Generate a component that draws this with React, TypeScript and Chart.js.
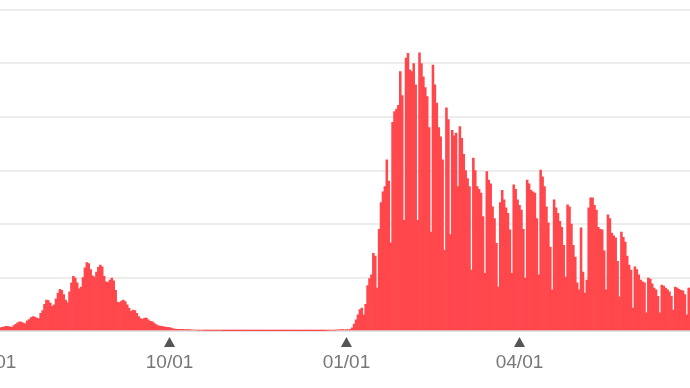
import React, { useEffect, useRef } from "react";
import { Chart, registerables } from "chart.js";

Chart.register(...registerables);

// Daily categories start on 2021-07-01 (one bar per day)
const START_DATE = "2021-07-01";
const DAY_COUNT = 365;
const TICK_LABELS = ["07/01", "10/01", "01/01", "04/01"];

// Y axis (no labels visible in the crop)
const Y_MAX = 60000;
const Y_STEP = 10000;

// 2021 summer wave: days 0-104
const wave2021 = [
  700, 680, 620, 560, 600, 680, 780, 850, 820, 760,
  700, 1000, 1250, 1550, 1700, 1650, 1500, 1350, 1900, 2150,
  2500, 2700, 2600, 2400, 2300, 3300, 3800, 5000, 5800, 5700,
  5200, 4600, 4900, 6000, 7100, 7800, 7600, 6800, 5800, 5300,
  7300, 9000, 10200, 9900, 9000, 7900, 8200, 10000, 11800, 12800,
  12600, 11500, 10300, 10100, 11000, 11900, 12300, 12000, 10200, 9200,
  9100, 9500, 9900, 9400, 7600, 5400, 5300, 5600, 5800, 5500,
  4900, 4300, 3700, 3900, 3800, 3300, 2700, 2300, 2200, 2400,
  2400, 2100, 1800, 1750, 1500, 1200, 1000, 900, 850, 800,
  750, 700, 650, 550, 420, 360, 330, 300, 320, 300,
  280, 260, 250, 220, 200,
];

// autumn lull: days 105-185
const lull = [
  180, 160, 150, 140, 150, 130, 120, 130, 110, 100,
  110, 100, 90, 100, 90, 80, 80, 70, 60, 60,
  70, 60, 50, 50, 60, 55, 50, 45, 50, 45,
  40, 40, 45, 40, 35, 35, 40, 35, 30, 30,
  35, 30, 30, 35, 40, 35, 30, 35, 40, 35,
  30, 40, 45, 40, 35, 45, 50, 45, 40, 50,
  60, 55, 50, 60, 70, 65, 60, 80, 100, 120,
  150, 170, 160, 140, 200, 240, 260, 250, 220, 250, 200,
];

// 2022 wave: days 186-364 (rows are Monday..Sunday)
const wave2022 = [
  300, 600, 1300, 2100, 3000, 4000, 4300,
  3000, 5000, 8500, 9800, 10500, 14500, 14000,
  8000, 19000, 24000, 26000, 27000, 32000, 28000,
  16500, 39000, 41000, 41500, 42200, 48500, 44000,
  20700, 51000, 51900, 48800, 48500, 50000, 46000,
  20700, 52000, 50000, 47500, 45500, 43800, 38000,
  18500, 49700, 46000, 42600, 38000, 36300, 32000,
  15100, 41700, 39500, 18000, 37500, 36500, 37000,
  27000, 38200, 36000, 33000, 30000, 28500, 27000,
  11400, 32300, 30000, 27000, 26500, 25800, 21400,
  10800, 29800, 28200, 27500, 23200, 21000, 16400,
  8200, 24000, 26300, 24500, 23000, 22000, 18900,
  10800, 27300, 26500, 24500, 23500, 22600, 19000,
  9900, 28200, 27500, 26300, 26000, 25800, 21000,
  10500, 30100, 28800, 27000, 23200, 20200, 15700,
  7700, 24500, 23000, 22000, 20500, 19400, 16000,
  10100, 23600, 23200, 20000, 16000, 13800, 9000,
  7700, 19300, 11000, 7100, 9500, 23000, 24900,
  24900, 23500, 22600, 19400, 19000, 18900, 15000,
  7700, 21700, 21000, 18300, 17800, 17400, 13000,
  6400, 18500, 17500, 16600, 14000, 12300, 11400,
  4300, 12000, 11500, 10500, 9500, 9200, 9000,
  3400, 9900, 9700, 8800, 8000, 7700, 6500,
  3400, 8600, 8400, 8000, 7700, 7300, 6500,
  3900, 8200, 8000, 7800, 7600, 7500, 6800,
  3000, 8000, 8000, 7800,
];

const DAILY = [...wave2021, ...lull, ...wave2022];

function buildDates(start: string, n: number): string[] {
  const [y, m, d] = start.split("-").map(Number);
  const dt = new Date(Date.UTC(y, m - 1, d));
  const out: string[] = [];
  for (let i = 0; i < n; i++) {
    const mm = String(dt.getUTCMonth() + 1).padStart(2, "0");
    const dd = String(dt.getUTCDate()).padStart(2, "0");
    out.push(`${mm}/${dd}`);
    dt.setUTCDate(dt.getUTCDate() + 1);
  }
  return out;
}

const DATES = buildDates(START_DATE, DAY_COUNT);

const FONT = "'Liberation Sans', Arial, Helvetica, sans-serif";

const tickMarkers = {
  id: "tickMarkers",
  afterDraw(chart: any) {
    const sc = chart.scales.x;
    const ctx = chart.ctx;
    const base = chart.chartArea.bottom;
    ctx.save();
    ctx.fillStyle = "#555555";
    sc.ticks.forEach((_t: any, i: number) => {
      const px = sc.getPixelForTick(i);
      ctx.beginPath();
      ctx.moveTo(px, base + 6);
      ctx.lineTo(px + 5.5, base + 16);
      ctx.lineTo(px - 5.5, base + 16);
      ctx.closePath();
      ctx.fill();
    });
    ctx.restore();
  },
};

const CANVAS_W = 782;
const CANVAS_H = 388;
const CANVAS_LEFT = -48;
const PAD_LEFT = 39.64;
const PAD_RIGHT = CANVAS_W - PAD_LEFT - 701.9;

export default function App() {
  const ref = useRef<HTMLCanvasElement | null>(null);

  useEffect(() => {
    if (!ref.current) return;
    const chart = new Chart(ref.current, {
      type: "bar",
      data: {
        labels: DATES,
        datasets: [
          {
            data: DAILY.slice(0, DAY_COUNT),
            backgroundColor: "#ff474c",
            borderWidth: 0,
            barPercentage: 1,
            categoryPercentage: 1,
          },
        ],
      },
      options: {
        animation: false,
        responsive: false,
        devicePixelRatio: 1,
        layout: { padding: { left: PAD_LEFT, right: PAD_RIGHT, top: 10, bottom: 0 } },
        plugins: { legend: { display: false }, tooltip: { enabled: false } },
        scales: {
          x: {
            type: "category",
            offset: true,
            grid: { display: false, drawTicks: false },
            border: { display: false },
            ticks: {
              autoSkip: false,
              maxRotation: 0,
              minRotation: 0,
              padding: 20,
              color: "#777777",
              font: { family: FONT, size: 19 },
            },
            afterBuildTicks(scale: any) {
              scale.ticks = scale.ticks.filter((t: any) => TICK_LABELS.includes(DATES[t.value]));
            },
            afterFit(scale: any) {
              scale.paddingLeft = 0;
              scale.paddingRight = 0;
              scale.height = 57;
            },
          },
          y: {
            min: 0,
            max: Y_MAX,
            ticks: { display: false, stepSize: Y_STEP },
            grid: {
              drawTicks: false,
              lineWidth: 2,
              color: (c: any) => (c.tick && c.tick.value === 0 ? "#e2e2e2" : "#ededed"),
            },
            border: { display: false },
            afterFit(scale: any) {
              scale.width = 0;
            },
          },
        },
      },
      plugins: [tickMarkers],
    } as any);
    return () => chart.destroy();
  }, []);

  return (
    <div
      style={{
        position: "absolute",
        left: 0,
        top: 0,
        width: 690,
        height: 388,
        overflow: "hidden",
        background: "#ffffff",
      }}
    >
      <canvas
        ref={ref}
        width={CANVAS_W}
        height={CANVAS_H}
        style={{ position: "absolute", left: CANVAS_LEFT, top: 0, width: CANVAS_W, height: CANVAS_H }}
      />
    </div>
  );
}
